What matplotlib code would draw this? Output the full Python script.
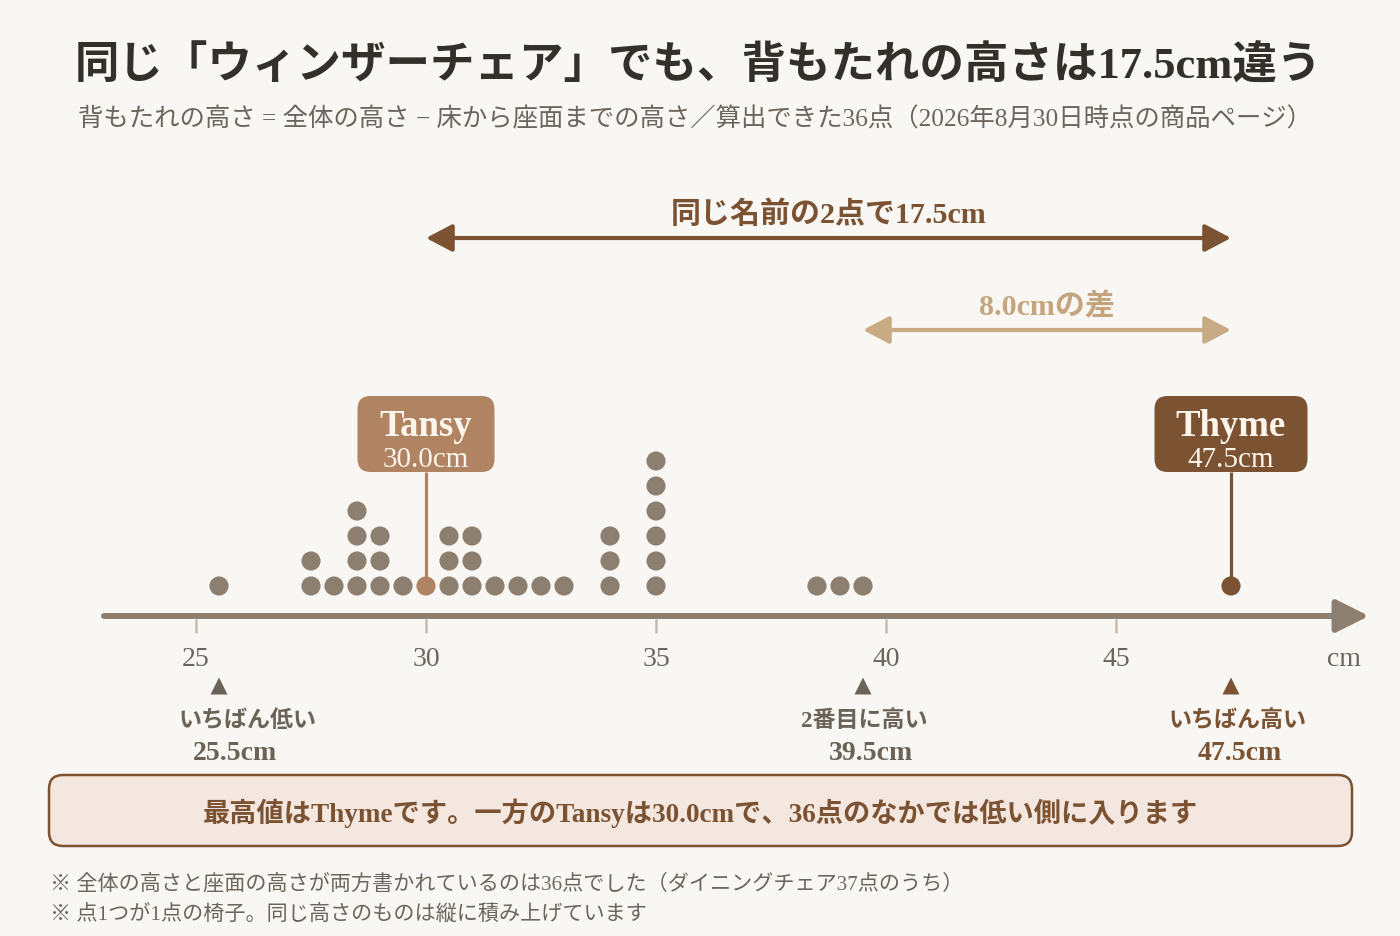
import matplotlib
matplotlib.use("Agg")
import matplotlib.pyplot as plt
from matplotlib.patches import FancyBboxPatch

# ---------------- data ----------------
heights = [25.5, 27.5, 28.0, 28.5, 29.0, 29.5, 30.0, 30.5, 31.0, 31.5,
           32.0, 32.5, 33.0, 34.0, 35.0, 38.5, 39.0, 39.5, 47.5]
counts = [1, 2, 1, 4, 3, 1, 1, 3, 3, 1, 1, 1, 1, 3, 6, 1, 1, 1, 1]
tick_values = [25, 30, 35, 40, 45]
tansy_name, tansy_value = "Tansy", 30.0
thyme_name, thyme_value = "Thyme", 47.5
second_value = 39.5
lowest_value = 25.5
marker_values = [lowest_value, second_value, thyme_value]
marker_titles = ["いちばん低い", "2番目に高い", "いちばん高い"]
marker_texts = ["25.5cm", "39.5cm", "47.5cm"]
big_gap_label = "同じ名前の2点で17.5cm"
small_gap_label = "8.0cmの差"

title = "同じ「ウィンザーチェア」でも、背もたれの高さは17.5cm違う"
subtitle = ("背もたれの高さ = 全体の高さ − 床から座面までの高さ／算出できた36点"
            "（2026年8月30日時点の商品ページ）")
callout = "最高値はThymeです。一方のTansyは30.0cmで、36点のなかでは低い側に入ります"
notes = ["※ 全体の高さと座面の高さが両方書かれているのは36点でした（ダイニングチェア37点のうち）",
         "※ 点1つが1点の椅子。同じ高さのものは縦に積み上げています"]

# ---------------- style ----------------
BG = "#f9f7f3"
INK = "#33302b"
GRAY = "#6b655d"
DOT = "#8c7f70"
TICK = "#c6bcb0"
TANSY = "#b08363"
THYME = "#7b5232"
LIGHT = "#c8ab85"
BOXFILL = "#f4e7df"
BOXTXT = "#fcf5ec"

plt.rcParams["font.family"] = ["Liberation Serif", "Noto Sans CJK JP"]

W, H = 1400, 936
fig = plt.figure(figsize=(W / 100, H / 100), dpi=100, facecolor=BG)

# data axes: x in cm, y in pixels from top
PX_PER_CM = 46.0
X0 = 25 - 196 / PX_PER_CM
ax = fig.add_axes([0, 0, 1, 1])
ax.set_xlim(X0, X0 + W / PX_PER_CM)
ax.set_ylim(H, 0)
ax.axis("off")

# canvas axes for text and boxes (pixels)
cv = fig.add_axes([0, 0, 1, 1])
cv.set_xlim(0, W)
cv.set_ylim(H, 0)
cv.axis("off")


def xpx(v):
    return ax.transData.transform((v, 0))[0]


# titles
cv.text(698, 66, title, ha="center", va="center", fontsize=32,
        fontweight="bold", color=INK)
cv.text(695, 119, subtitle, ha="center", va="center", fontsize=18.3, color=GRAY)

# number line
AXIS_Y = 616
ax.annotate("", xy=(50.5, AXIS_Y), xytext=(23.0, AXIS_Y),
            arrowprops=dict(arrowstyle="-|>,head_length=1.0,head_width=0.5",
                            mutation_scale=20, lw=4.3, color=DOT,
                            shrinkA=0, shrinkB=0), zorder=2)
ax.vlines(tick_values, 619, 633, color=TICK, lw=1.8, zorder=1)
for t in tick_values:
    cv.text(xpx(t), 660, str(t), ha="center", va="center", fontsize=20,
            color=GRAY)
cv.text(1344, 660, "cm", ha="center", va="center", fontsize=20, color=GRAY)

# stems
BASE_Y, STEP = 586, 25
ax.plot([tansy_value, tansy_value], [472, BASE_Y], color=TANSY, lw=2.3,
        zorder=3, solid_capstyle="butt")
ax.plot([thyme_value, thyme_value], [472, BASE_Y], color=THYME, lw=2.3,
        zorder=3, solid_capstyle="butt")

# dots
xs, ys, cs = [], [], []
for h, c in zip(heights, counts):
    for i in range(c):
        xs.append(h)
        ys.append(BASE_Y - STEP * i)
        if h == tansy_value:
            cs.append(TANSY)
        elif h == thyme_value:
            cs.append(THYME)
        else:
            cs.append(DOT)
ax.scatter(xs, ys, s=190, c=cs, linewidths=0, zorder=4)

# callout boxes
for name, val, col, w in [(tansy_name, tansy_value, TANSY, 137),
                          (thyme_name, thyme_value, THYME, 153)]:
    cx = xpx(val)
    cv.add_patch(FancyBboxPatch((cx - w / 2, 396), w, 76,
                                boxstyle="round,pad=0,rounding_size=13",
                                fc=col, ec="none", zorder=5))
    cv.text(cx, 427, name, ha="center", va="center", fontsize=26.5,
            fontweight="bold", color=BOXTXT, zorder=6)
    cv.text(cx, 460, f"{val:.1f}cm", ha="center", va="center", fontsize=21,
            color=BOXTXT, zorder=6)

# range arrows
ax.annotate("", xy=(thyme_value, 238), xytext=(tansy_value, 238),
            arrowprops=dict(arrowstyle="<|-|>,head_length=0.8,head_width=0.42",
                            mutation_scale=20, lw=3, color=THYME,
                            shrinkA=0, shrinkB=0))
cv.text(xpx((tansy_value + thyme_value) / 2), 215, big_gap_label, ha="center",
        va="center", fontsize=21.6, fontweight="bold", color=THYME)
ax.annotate("", xy=(thyme_value, 330), xytext=(second_value, 330),
            arrowprops=dict(arrowstyle="<|-|>,head_length=0.8,head_width=0.42",
                            mutation_scale=20, lw=3, color=LIGHT,
                            shrinkA=0, shrinkB=0))
cv.text(xpx((second_value + thyme_value) / 2), 307, small_gap_label,
        ha="center", va="center", fontsize=21.6, fontweight="bold", color="#c4a57f")

# markers below the axis
mcols = ["#6b6358", "#6b6358", THYME]
ax.scatter(marker_values, [686] * 3, marker="^", s=150, c=mcols,
           linewidths=0, zorder=4)
title_dx = [29, 1, 7]
text_dx = [16, 8, 9]
for v, t1, t2, col, d1, d2 in zip(marker_values, marker_titles, marker_texts,
                                  mcols, title_dx, text_dx):
    cv.text(xpx(v) + d1, 721, t1, ha="center", va="center", fontsize=16.6,
            fontweight="bold", color=col)
    cv.text(xpx(v) + d2, 754, t2, ha="center", va="center", fontsize=20,
            fontweight="bold", color=col)

# summary box
cv.add_patch(FancyBboxPatch((49, 775), 1303, 71,
                            boxstyle="round,pad=0,rounding_size=14",
                            fc=BOXFILL, ec=THYME, lw=1.8, zorder=2))
cv.text(700, 813, callout, ha="center", va="center", fontsize=19.6,
        fontweight="bold", color=THYME, zorder=3)

# footnotes
cv.text(50, 884, notes[0], ha="left", va="center", fontsize=15.2, color=GRAY)
cv.text(50, 915, notes[1], ha="left", va="center", fontsize=15.2, color=GRAY)

fig.savefig("out.png", dpi=100, facecolor=BG)
